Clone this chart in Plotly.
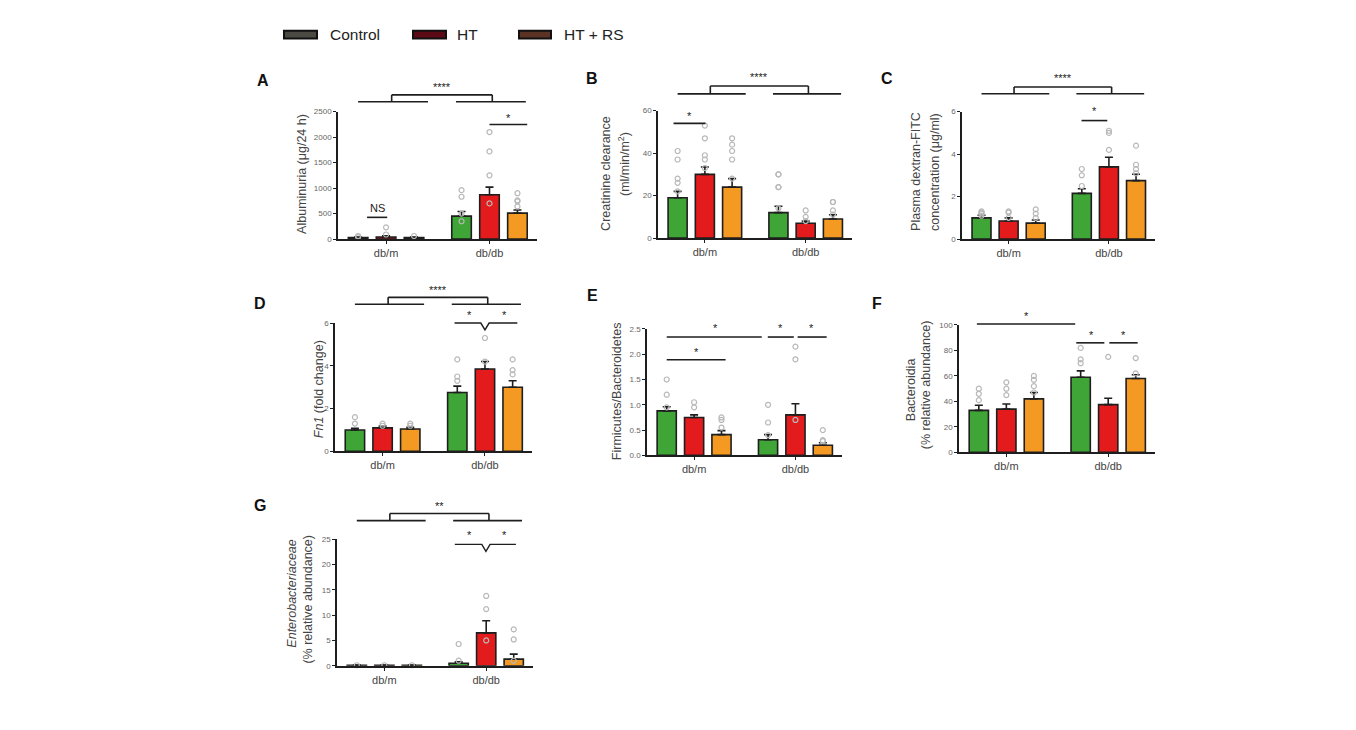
import plotly.graph_objects as go

W, H = 1356, 730

# ---------------- data ----------------
group_names = ["Control", "HT", "HT + RS"]
group_colors = ["#3ea536", "#e31b1c", "#f49a22"]
bar_colors = group_colors * 2
xpos = [0, 1, 2, 3.7, 4.7, 5.7]          # db/m: Control, HT, HT+RS ; db/db: Control, HT, HT+RS
cat_centers = [1, 4.7]
cat_labels = ["db/m", "db/db"]

A_mean = [30, 40, 30, 450, 870, 510]
A_sem = [10, 25, 10, 90, 150, 60]
A_pts = [[60, 40], [230, 90], [60], [960, 830, 500, 350], [2100, 1720, 1250, 700], [900, 740, 760, 640]]

B_mean = [19, 30, 24, 12, 7, 9]
B_sem = [3, 3.5, 4, 3, 1, 2]
B_pts = [[41, 37, 28, 26, 22], [53, 47, 39, 37, 33], [47, 44, 41, 37, 28],
         [30, 30, 24, 24, 14], [13, 10, 8], [17, 17, 13, 11]]

C_mean = [1.0, 0.85, 0.75, 2.15, 3.4, 2.75]
C_sem = [0.12, 0.15, 0.15, 0.22, 0.45, 0.3]
C_pts = [[1.3, 1.25, 1.2, 1.1], [1.3, 1.25, 1.0], [1.4, 1.2, 1.0],
         [3.3, 3.0, 2.5], [5.1, 5.0, 4.2], [4.4, 3.5, 3.3, 3.1]]

D_mean = [1.0, 1.1, 1.05, 2.75, 3.85, 3.0]
D_sem = [0.08, 0.08, 0.08, 0.3, 0.35, 0.3]
D_pts = [[1.6, 1.3], [1.3, 1.2], [1.3, 1.2], [4.3, 3.5, 3.3], [5.3, 4.2], [4.3, 3.8, 3.6]]

E_mean = [0.88, 0.75, 0.41, 0.31, 0.8, 0.2]
E_sem = [0.08, 0.05, 0.08, 0.1, 0.22, 0.05]
E_pts = [[1.5, 1.2, 0.95], [1.05, 0.95], [0.75, 0.7, 0.55], [1.0, 0.65, 0.4],
         [2.15, 1.9, 0.7], [0.5, 0.3, 0.28]]

F_mean = [33, 34, 42, 59, 37.5, 58]
F_sem = [4, 4, 5, 5, 5, 3]
F_pts = [[50, 46, 41], [55, 50, 45], [60, 57, 52, 47], [82, 73, 70], [75], [74, 62]]

G_mean = [0.1, 0.1, 0.1, 0.5, 6.5, 1.3]
G_sem = [0.05, 0.05, 0.05, 0.3, 2.4, 1.0]
G_pts = [[0.1], [0.1], [0.1], [4.3, 1.0], [13.8, 11.2, 5.0], [7.2, 5.2, 1.0]]

A_ticks = [0, 500, 1000, 1500, 2000, 2500]
B_ticks = [0, 20, 40, 60]
C_ticks = [0, 2, 4, 6]
D_ticks = [0, 2, 4, 6]
E_ticks = [0, 0.5, 1.0, 1.5, 2.0, 2.5]
E_ticktext = ["0.0", "0.5", "1.0", "1.5", "2.0", "2.5"]
F_ticks = [0, 20, 40, 60, 80, 100]
G_ticks = [0, 5, 10, 15, 20, 25]

# ---------------- layout config ----------------
XR = (-0.72, 6.4)
FONT = "Liberation Sans, Arial, sans-serif"

panels = [
    dict(letter="A", mean=A_mean, sem=A_sem, pts=A_pts, ticks=A_ticks, ticktext=None,
         box=(338, 537, 109, 238),
         titles=[("Albuminuria (μg/24 h)", 302, 172)], letter_xy=(263, 77),
         marks=[("group", 2694, 2829, "****", 2990), ("pair", 4.7, 6.05, 2248, "*", 5.37, 2370),
                ("pair", 0.32, 1.04, 426, "NS", 0.68, 600)]),
    dict(letter="B", mean=B_mean, sem=B_sem, pts=B_pts, ticks=B_ticks, ticktext=None,
         box=(658, 852, 108, 237),
         titles=[("Creatinine clearance", 606, 172), ("(ml/min/m<sup>2</sup>)", 624, 162)],
         letter_xy=(592, 75),
         marks=[("group", 67.9, 71.6, "****", 75.8), ("pair", -0.15, 1.02, 54, "*", 0.43, 57.7)]),
    dict(letter="C", mean=C_mean, sem=C_sem, pts=C_pts, ticks=C_ticks, ticktext=None,
         box=(962, 1155, 109, 238),
         titles=[("Plasma dextran-FITC", 916, 170), ("concentration (μg/ml)", 935, 170)],
         letter_xy=(887, 75),
         marks=[("group", 6.84, 7.16, "****", 7.6), ("pair", 3.69, 4.64, 5.58, "*", 4.17, 6.05)]),
    dict(letter="D", mean=D_mean, sem=D_sem, pts=D_pts, ticks=D_ticks, ticktext=None,
         box=(335, 532, 323, 453),
         titles=[("<i>Fn1</i> (fold change)", 319, 390)], letter_xy=(260, 303),
         marks=[("group", 6.88, 7.2, "****", 7.55),
                ("notch", 3.6, 5.87, 4.7, 6.0, 5.68, [(4.15, 6.37), (5.4, 6.37)])]),
    dict(letter="E", mean=E_mean, sem=E_sem, pts=E_pts, ticks=E_ticks, ticktext=E_ticktext,
         box=(647, 842, 329, 457),
         titles=[("Firmicutes/Bacteroidetes", 617, 392)], letter_xy=(592, 295),
         marks=[("pair", 0.0, 3.47, 2.34, "*", 1.79, 2.52), ("pair", 3.69, 4.64, 2.34, "*", 4.16, 2.52),
                ("pair", 4.78, 5.84, 2.34, "*", 5.29, 2.52), ("pair", 0.0, 2.15, 1.89, "*", 1.09, 2.05)]),
    dict(letter="F", mean=F_mean, sem=F_sem, pts=F_pts, ticks=F_ticks, ticktext=None,
         box=(959, 1155, 325, 454),
         titles=[("Bacteroidia", 911, 390), ("(% relative abundance)", 926, 386)],
         letter_xy=(877, 303),
         marks=[("pair", -0.07, 3.5, 100.8, "*", 1.75, 107), ("pair", 3.54, 4.56, 86, "*", 4.1, 92),
                ("pair", 4.74, 5.77, 86, "*", 5.27, 92)]),
    dict(letter="G", mean=G_mean, sem=G_sem, pts=G_pts, ticks=G_ticks, ticktext=None,
         box=(337, 533, 542, 670),
         titles=[("<i>Enterobacteriaceae</i>", 292, 597), ("(% relative abundance)", 308, 603)],
         letter_xy=(260, 508),
         marks=[("group", 28.7, 30.1, "**", 31.6),
                ("notch", 3.56, 5.78, 4.69, 24.0, 22.6, [(4.1, 25.8), (5.35, 25.8)])]),
]

fig = go.Figure()
shapes = []
annots = []
LINE = "#1e1e1e"


def to_paper(p, x, y):
    l, r, t, b = p["box"]
    ymax = p["ticks"][-1]
    px = l + (x - XR[0]) / (XR[1] - XR[0]) * (r - l)
    py = b - y / ymax * (b - t)
    return px / W, 1 - py / H


def line(p, x0, y0, x1, y1):
    a = to_paper(p, x0, y0)
    c = to_paper(p, x1, y1)
    shapes.append(dict(type="line", xref="paper", yref="paper", x0=a[0], y0=a[1], x1=c[0], y1=c[1],
                       line=dict(color=LINE, width=1.6)))


def star(p, x, y, text):
    a = to_paper(p, x, y)
    annots.append(dict(xref="paper", yref="paper", x=a[0], y=a[1], text=text, showarrow=False,
                       xanchor="center", yanchor="middle", font=dict(family=FONT, size=11, color="#222")))


for i, p in enumerate(panels):
    n = "" if i == 0 else str(i + 1)
    xa, ya = "x" + n, "y" + n
    l, r, t, b = p["box"]
    fig.add_trace(go.Bar(
        x=xpos, y=p["mean"], xaxis=xa, yaxis=ya, width=0.7,
        marker=dict(color=bar_colors, line=dict(color=LINE, width=1.6)),
        error_y=dict(type="data", symmetric=False, array=p["sem"], arrayminus=[0] * 6,
                     color=LINE, thickness=1.6, width=4),
        showlegend=False, hoverinfo="skip"))
    px, py = [], []
    for k, vals in enumerate(p["pts"]):
        for v in vals:
            px.append(xpos[k])
            py.append(v)
    fig.add_trace(go.Scatter(
        x=px, y=py, xaxis=xa, yaxis=ya, mode="markers", cliponaxis=False,
        marker=dict(symbol="circle-open", size=5, color="#b8b8b8", line=dict(width=1.2)),
        showlegend=False, hoverinfo="skip"))
    fig.layout["xaxis" + n] = dict(
        domain=[l / W, r / W], range=list(XR), anchor=ya, tickvals=cat_centers, ticktext=cat_labels,
        showline=True, linecolor=LINE, linewidth=1.6, ticks="outside", ticklen=3, tickcolor=LINE,
        showgrid=False, zeroline=False, tickfont=dict(family=FONT, size=11, color="#444"), fixedrange=True)
    fig.layout["yaxis" + n] = dict(
        domain=[1 - b / H, 1 - t / H], range=[0, p["ticks"][-1]], anchor=xa, tickvals=p["ticks"],
        ticktext=p["ticktext"] if p["ticktext"] else [str(v) for v in p["ticks"]],
        showline=True, linecolor=LINE, linewidth=1.6, ticks="outside", ticklen=3, tickcolor=LINE,
        showgrid=False, zeroline=False, tickfont=dict(family=FONT, size=8, color="#666"), fixedrange=True)

    # titles and letters
    for (txt, tx, ty) in p["titles"]:
        annots.append(dict(xref="paper", yref="paper", x=tx / W, y=1 - ty / H, text=txt, textangle=-90,
                           showarrow=False, xanchor="center", yanchor="middle",
                           font=dict(family=FONT, size=12.5, color="#444")))
    lx, ly = p["letter_xy"]
    annots.append(dict(xref="paper", yref="paper", x=lx / W, y=1 - ly / H, text="<b>%s</b>" % p["letter"],
                       showarrow=False, xanchor="center", yanchor="middle",
                       font=dict(family=FONT, size=16, color="#111")))

    # significance marks
    for m in p["marks"]:
        if m[0] == "group":
            _, yl, yt, txt, ytxt = m
            line(p, 0.0, yl, 2.5, yl)
            line(p, 3.5, yl, 6.0, yl)
            line(p, 1.2, yl, 1.2, yt)
            line(p, 1.2, yt, 4.8, yt)
            line(p, 4.8, yt, 4.8, yl)
            star(p, 3.0, ytxt, txt)
        elif m[0] == "pair":
            _, x0, x1, yl, txt, xt, yt = m
            line(p, x0, yl, x1, yl)
            star(p, xt, yt, txt)
        elif m[0] == "notch":
            _, x0, x1, xn, yl, yn, stars = m
            pts = [to_paper(p, x0, yl), to_paper(p, xn - 0.15, yl), to_paper(p, xn, yn),
                   to_paper(p, xn + 0.15, yl), to_paper(p, x1, yl)]
            path = "M " + " L ".join("%f,%f" % q for q in pts)
            shapes.append(dict(type="path", xref="paper", yref="paper", path=path,
                               line=dict(color=LINE, width=1.4)))
            for (sx, sy) in stars:
                star(p, sx, sy, "*")

# legend (custom swatches)
legend_fill = ["#4a4a42", "#5c0b16", "#5a3324"]
legend_x = [(284, 317, 328), (413, 446, 455), (519, 551, 562)]
for name, fill, (x0, x1, tx) in zip(group_names, legend_fill, legend_x):
    shapes.append(dict(type="rect", xref="paper", yref="paper", x0=x0 / W, x1=x1 / W,
                       y0=1 - 35 / H, y1=1 - 27 / H, fillcolor=fill, line=dict(color="#111", width=2)))
    annots.append(dict(xref="paper", yref="paper", x=tx / W, y=1 - 31 / H, text=name, showarrow=False,
                       xanchor="left", yanchor="middle", font=dict(family=FONT, size=15.5, color="#222")))

fig.update_layout(
    width=W, height=H, margin=dict(l=0, r=0, t=0, b=0),
    paper_bgcolor="#ffffff", plot_bgcolor="#ffffff",
    shapes=shapes, annotations=annots, barmode="overlay", showlegend=False,
    font=dict(family=FONT),
)

fig.write_html("out.html", config={"displayModeBar": False},
               post_script="document.body.style.margin='0';document.body.style.overflow='hidden';")
